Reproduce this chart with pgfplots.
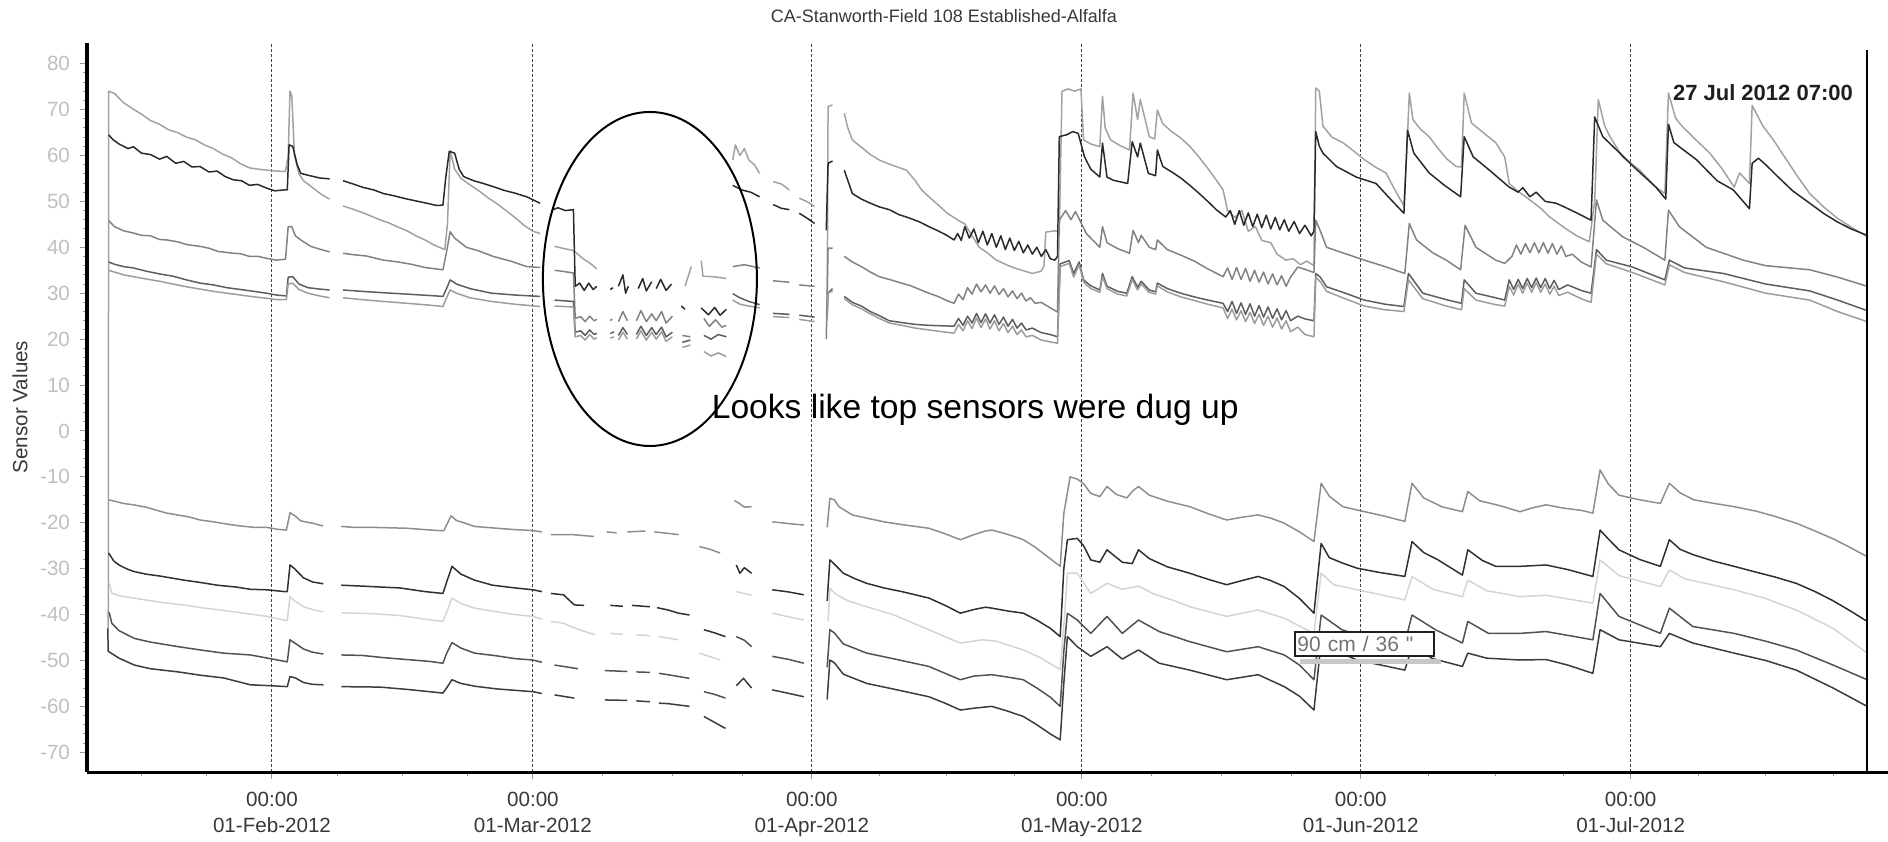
\documentclass[border=0pt]{standalone}
\usepackage{fontspec}
\setmainfont{Liberation Sans}
\newfontfamily\qfont{Liberation Sans}[Ligatures=TeXOff]
\usepackage{pgfplots}
\pgfplotsset{compat=1.18}
\definecolor{cT1}{HTML}{A2A2A2}
\definecolor{cT2}{HTML}{2A2A2A}
\definecolor{cT3}{HTML}{828282}
\definecolor{cT4}{HTML}{5E5E5E}
\definecolor{cT5}{HTML}{9C9C9C}
\definecolor{cB1}{HTML}{8E8E8E}
\definecolor{cB2}{HTML}{303030}
\definecolor{cB3}{HTML}{D4D4D4}
\definecolor{cB4}{HTML}{525252}
\definecolor{cB5}{HTML}{3C3C3C}
\begin{document}
\begin{tikzpicture}
\begin{axis}[
  name=ax,
  scale only axis, width=900.5pt, height=364.5pt,
  xmin=10.44, xmax=210.6, ymin=-74.3, ymax=84.5,
  axis lines*=left,
  x axis line style={line width=1.5pt},
  y axis line style={line width=2pt},
  clip=false,
  unbounded coords=jump,
  /pgf/number format/assume math mode=true,
  xtick={31,60,91,121,152,182},
  xticklabels={{00:00\\01-Feb-2012},{00:00\\01-Mar-2012},{00:00\\01-Apr-2012},{00:00\\01-May-2012},{00:00\\01-Jun-2012},{00:00\\01-Jul-2012}},
  minor xtick={16.5,23.75,38.25,45.5,52.75,67.75,75.5,83.25,98.5,106,113.5,128.75,136.5,144.25,159.5,167,174.5,189.5,197,204.5},
  xticklabel style={align=center, text=black!78, font=\fontsize{10.3}{13}\selectfont, yshift=-3pt},
  ytick={-70,-60,...,80},
  minor y tick num=4,
  yticklabel style={text=black!25, font=\fontsize{10.3}{12}\selectfont, xshift=-1.5pt},
  tick align=outside,
  major tick length=3.5pt, minor tick length=2pt,
  every tick/.style={black!40, line width=0.5pt},
  xmajorgrids,
  major grid style={black!75, line width=0.5pt, dash pattern=on 1.5pt off 1pt},
  every axis plot/.append style={line width=0.75pt, line join=round},
]
% ---------- top group ----------
\addplot[cT1] coordinates {(12.8,-43) (12.85,74) (13.5,73.5) (14.5,71.5) (15.5,70.2) (16.5,69) (17.5,67.6) (18.5,66.8) (19.5,65.6) (20.5,65) (21.5,64) (22.5,63.4) (23.5,62.3) (24.5,61.5) (25.5,60.3) (26.5,59.5) (27.5,58.2) (28.5,57.3) (29.5,57) (30.5,56.8) (31.5,56.6) (32.5,56.5) (32.8,60) (33.0,74) (33.2,73) (33.5,60) (34.0,56) (34.5,54.5) (35.5,53) (36.5,51.5) (37.4,50.5) (37.6,nan) (38.9,49) (40,48.3) (41,47.6) (42,46.8) (43,46) (44,45.3) (45,44.4) (46,43.6) (47,42.5) (48,41.6) (49,40.5) (50.2,39.5) (50.5,45) (50.8,61) (51.3,57) (52,55) (53,53.6) (54,52.3) (55,50.8) (56,49.5) (57,48) (58,46.5) (59,44.8) (60,43.5) (60.8,43) (61.2,nan) (62.4,40.2) (63.5,39.7) (64.5,39.3) (65,38.5) (65.5,37.6) (66.3,36.6) (67.1,35.3) (67.3,nan) (76.9,31.5) (77.6,35.8) (77.8,nan) (78.7,37.1) (78.9,33.7) (80,33.6) (81.5,33.2) (81.7,nan) (82.2,59) (82.5,62.3) (83.0,60.0) (83.5,61.5) (84.0,59) (84.6,58) (85.2,56.1) (85.4,nan) (86.7,54.3) (87.6,53.8) (88.5,52.5) (88.7,nan) (89.6,50.7) (90.4,50) (91.3,48.9) (91.5,nan) (92.7,24.5) (92.8,70.7) (93.3,71) (93.4,nan) (94.6,69.2) (95.0,66) (95.5,63.4) (96.5,61.8) (97.5,60.2) (98.5,59) (99.5,58.2) (100.5,57.5) (101.5,56.8) (102.5,54.5) (103.2,52.5) (104,51) (105,49.3) (106,47.5) (106.7,46.6) (107.5,45.6) (108,45.1) (108.8,42.5) (109.6,40) (110.5,38.8) (111.5,37.2) (112.5,36.3) (113.5,35.5) (114.5,34.9) (115.5,34.3) (116.5,34.8) (116.8,36) (117,43.3) (118,43.6) (118.5,43.3) (118.8,74) (119.5,74.5) (120.2,74) (120.9,74.5) (121.2,63.4) (122,62.5) (123,61.9) (123.3,72.9) (123.6,66) (124.2,63.4) (125.2,62.2) (126.3,61.2) (126.7,73.6) (127.2,67.8) (127.5,72.2) (128.5,64.1) (129.1,63.6) (129.4,69.9) (130,66.9) (131,65.2) (132,63.8) (133,62) (134,59.7) (135,57.2) (136,54.5) (136.7,52.5) (137.2,48) (138,46.5) (138.8,48) (139.5,43.5) (140.3,44.5) (141,41.5) (142,41) (142.7,38.5) (143.7,37.2) (144.5,37.5) (145.3,36.2) (146,37) (146.8,36) (147.0,74.7) (147.4,74) (147.8,66.4) (148.8,64) (150,62.8) (151.2,61) (152.4,59.1) (153.6,57.5) (154.8,56.2) (155.8,52.5) (156.8,49) (157.1,60) (157.4,73.6) (157.8,67.8) (158.6,65.8) (159.6,64.1) (160.6,61.5) (161.6,59.2) (162.6,57.6) (163.2,57.5) (163.5,73.6) (164.3,67.1) (165.6,65) (167,62.8) (168,59.7) (168.5,53.9) (169.3,52.5) (170.8,50.3) (172,48.5) (173,46.6) (174.6,44.3) (176,42.5) (177.4,41.2) (178.0,50) (178.4,72.2) (179.1,66.5) (179.7,64.1) (181.1,59.7) (183,56.8) (184.8,53.1) (185.8,51.7) (186.2,73.6) (187.0,68.1) (187.7,66.4) (189.2,63.5) (190.8,60.5) (192.2,57) (193.5,53.1) (194.1,56.2) (195.2,53.9) (195.5,70.9) (196.7,66.4) (198.0,63) (199.3,59.1) (200.7,55) (201.9,51.7) (203.5,48.7) (205,46.3) (206.5,44.4) (208.29,42.3)};
\addplot[cT2] coordinates {(12.85,64.5) (13.3,63.5) (14,62.5) (15,61.5) (15.6,61.9) (16.5,60.5) (17.5,60.2) (18.5,59.2) (19.3,59.8) (20.3,58.3) (21.2,58.7) (22.1,57.5) (23,57.6) (24,56.4) (24.9,56.6) (25.8,55.4) (26.7,54.7) (27.6,54.5) (28.5,53.5) (29.4,53.7) (30.4,52.9) (31.3,52.3) (32.4,52.5) (32.7,52.5) (32.9,62.3) (33.3,62) (33.8,58) (34.2,56.1) (35.2,55.6) (36.3,55.1) (37.4,54.9) (37.6,nan) (38.9,54.5) (40,53.8) (41.2,53) (42.3,52.5) (43.4,51.7) (44.6,51.2) (45.8,50.6) (47,50.1) (48.2,49.6) (49.3,49.1) (50.0,49.2) (50.3,55) (50.7,60.9) (51.3,60.5) (51.8,57) (52.3,55.4) (53.4,54.5) (54.5,53.9) (55.6,53.2) (56.8,52.4) (58,51.8) (59.3,51) (60.8,49.6) (61.2,nan) (62.2,48.2) (62.8,48.6) (63.6,48.0) (64.5,48.2) (64.7,31.5) (65.2,32.2) (65.7,30.6) (66.2,32.2) (66.7,30.8) (67.1,31.5) (67.3,nan) (68.6,30.8) (68.9,31.2) (69.1,nan) (69.5,31.5) (70,34) (70.3,30) (70.6,31.5) (70.8,nan) (71.7,31) (72.2,33.2) (72.6,30.5) (73.2,32.5) (73.4,nan) (73.7,31) (74.2,33) (74.8,30.6) (75.4,32) (75.6,nan) (76.5,27.2) (76.9,26.5) (77.1,nan) (78.7,26.8) (79.5,25.3) (80.2,26.9) (80.8,25.2) (81.5,26.5) (81.7,nan) (82.2,53.5) (83.2,52.5) (84.2,52) (85.2,51) (85.4,nan) (86.7,49.3) (87.6,48.5) (88.5,48.2) (88.7,nan) (89.6,47.4) (90.5,46.3) (91.3,45.2) (91.5,nan) (92.6,43.7) (92.8,58.3) (93.3,58.8) (93.4,nan) (94.6,56.8) (95.5,51.7) (96.5,50.5) (97.5,49.6) (98.5,48.8) (99.6,48.2) (100.7,47.1) (101.8,46.4) (103,45.5) (104,44.5) (105,43.6) (106,42.6) (106.8,41.6) (107.2,43) (107.6,41.5) (108,44.5) (108.5,42) (109,44) (109.5,41) (110,43.5) (110.5,40.5) (111,43) (111.5,40) (112,42.5) (112.5,39.5) (113,42) (113.5,39.3) (114,41.3) (114.5,38.8) (115,40.5) (115.5,38.5) (116,40) (116.5,38) (117,39.5) (117.5,37.5) (118,37.2) (118.3,38) (118.5,64.1) (119.3,64.5) (120,65.2) (120.6,64.8) (121.3,59.7) (122,57) (123,55.3) (123.3,62.7) (123.8,55.3) (124.5,54.6) (126.1,53.9) (126.6,63) (127.2,59.7) (127.5,62.7) (128.4,56.1) (129.2,55.6) (129.4,61.2) (130,57.6) (131,56.4) (132,55.1) (133,53.5) (134,51.8) (135,50) (136,48.1) (137,46.6) (137.5,48) (138,45) (138.5,48) (139,44.8) (139.5,47.5) (140,44.5) (140.5,47.2) (141,44.3) (141.5,47) (142,44) (142.5,46.5) (143,43.8) (143.5,46) (144,43.5) (144.6,45.6) (145.2,43) (145.8,44.8) (146.5,42.5) (146.8,43.5) (147,65.2) (147.4,62) (147.8,60.5) (149.3,57.6) (151.5,55.3) (153.7,53.9) (155.3,50.5) (156.8,47.4) (157.2,65.5) (157.9,60.5) (159.6,56.2) (161.3,53.5) (163.1,51) (163.5,64.1) (164.5,59.7) (166.3,56.8) (168.5,53.1) (169.5,52) (170,53) (170.8,51) (171.5,52) (172.5,50) (173.7,49.6) (174.5,48.9) (176,47.5) (177.6,45.9) (178,68.4) (178.9,64.1) (180.8,60.5) (182.3,57.6) (184.8,53.1) (185.9,50.5) (186.2,66.8) (186.8,62.8) (189.3,59.1) (191.6,54.5) (193.4,52.5) (195.2,48.4) (195.5,58.3) (196.2,59.4) (197.0,58) (198.4,55.3) (200,52.3) (201.9,49.6) (203.5,47.3) (205,45.5) (206.5,44) (208.29,42.6)};
\addplot[cT3] coordinates {(12.85,45.8) (13.5,44.5) (14.5,43.6) (15.6,43.1) (16.5,42.6) (17.5,42.5) (18.5,41.7) (19.3,41.6) (20.5,41.2) (21.5,40.6) (23,40.2) (24,39.8) (25,39.1) (26.7,38.7) (27.5,38.6) (28.5,38) (29.5,38) (30.4,37.6) (31.5,37.2) (32.5,37.4) (32.8,44.5) (33.2,44.5) (33.6,42.5) (34.2,41.6) (35.3,40.2) (36.3,39.6) (37.4,39) (37.6,nan) (38.9,38.7) (40,38.4) (41.5,38.1) (43.4,37.2) (45,36.8) (46.5,36.3) (48,35.6) (50,35.1) (50.4,39) (50.8,43.4) (51.3,42) (52.6,40) (54,39.2) (55.6,38) (57.5,37) (59.3,35.8) (60.8,35.6) (61.2,nan) (62.4,35) (63.5,34.7) (64.5,34.4) (64.7,24.5) (65.3,24.9) (65.8,23.8) (66.3,25) (66.8,24) (67.1,24.3) (67.3,nan) (68.6,24) (68.8,24.4) (69.0,nan) (69.5,23.8) (70,26) (70.5,24) (70.7,nan) (71.5,24) (72,26.2) (72.6,23.8) (73.2,25.5) (73.7,24) (74.3,26) (74.8,23.5) (75.5,25) (75.7,nan) (76.6,20.8) (77.5,20.5) (77.7,nan) (79,24.5) (79.6,22.8) (80.3,24.2) (81,22.6) (81.5,23) (81.7,nan) (82.2,35.8) (83.5,36.2) (85.2,35.5) (85.4,nan) (86.7,32.7) (88.5,32.4) (88.7,nan) (89.6,31.8) (91.3,31.5) (91.5,nan) (92.6,20) (92.8,39.8) (93.3,39.8) (93.4,nan) (94.6,38) (95.5,36.8) (96.5,35.8) (97.5,34.6) (98.5,33.6) (99.6,33.0) (100.8,32.3) (102,31.6) (103,30.8) (104,30) (105,29.3) (106,28.4) (106.8,27.8) (107.3,29.8) (107.8,28.6) (108.3,31.2) (108.8,29.8) (109.3,32) (109.8,30.3) (110.3,31.8) (110.8,30) (111.3,31.6) (111.8,29.7) (112.3,31) (112.8,29.2) (113.3,30.5) (113.8,28.8) (114.3,30) (114.8,28.3) (115.3,29) (115.8,27.8) (116.5,28) (117,27.4) (118.3,25.9) (118.5,45.9) (119.2,48) (119.8,46) (120.3,47.8) (121,45) (121.5,43) (123,40) (123.3,44.5) (123.8,41) (125,39.7) (126.3,38.7) (126.7,43.7) (127.3,41) (127.6,42.6) (128.5,40) (129.2,39.5) (129.4,41.6) (130.5,39.5) (132,38.3) (133.5,37) (135,35.3) (136.7,33.6) (137.2,35.5) (137.7,33) (138.2,35.6) (138.7,33) (139.2,35.4) (139.7,32.6) (140.2,35) (140.7,32.4) (141.2,34.6) (141.7,32) (142.2,34.2) (142.7,31.8) (143.2,33.8) (143.7,31.5) (144.2,33.5) (145,35.7) (145.8,35.2) (146.8,34.5) (147,45.9) (147.5,43.6) (148.2,40) (150,38.8) (152.4,37.2) (154.7,35.8) (156.9,34.3) (157.4,45.2) (158.2,41.6) (160,38.8) (161.5,37.2) (163.1,35.1) (163.6,44.8) (164.8,40) (167,37.2) (168,36.5) (168.8,38) (169.3,40.5) (169.8,38.5) (170.3,40.8) (170.8,38.8) (171.3,41) (171.8,38.8) (172.3,41) (172.8,38.7) (173.3,40.8) (173.8,38.5) (174.3,40.3) (174.8,38) (175.5,38.5) (176.5,36.8) (177.6,35.7) (178.2,50.3) (178.9,45.9) (181.1,42.3) (183.4,40) (185.8,37.2) (186.2,48.1) (187.4,44.5) (190.4,40) (194.5,37.2) (197,36) (201.9,35.1) (205,33.5) (208.29,31.5)};
\addplot[cT4] coordinates {(12.85,36.8) (13.5,36.3) (14.5,35.8) (15.6,35.5) (17,34.8) (18.5,34.2) (20,33.7) (21.5,32.9) (23,32.2) (24.5,31.8) (26,31.2) (27.5,30.8) (29,30.4) (30.4,30) (31.5,29.6) (32.6,29.4) (32.8,33.5) (33.3,33.6) (34,32) (35,31.2) (36.3,30.9) (37.4,30.7) (37.6,nan) (38.9,30.7) (41,30.4) (43.4,30.1) (46,29.8) (48.5,29.5) (50,29.3) (50.4,31) (50.8,32.9) (51.5,32) (53,31) (55.4,30) (58,29.6) (60.8,29.3) (61.2,nan) (62.4,28.5) (64.5,28.2) (64.7,21.5) (65.3,21.8) (65.8,20.8) (66.3,22) (66.8,21) (67.1,21.3) (67.3,nan) (68.6,21.2) (69.0,21.6) (69.2,nan) (69.5,20.8) (70,22.5) (70.5,21) (70.7,nan) (71.5,21) (72,22.8) (72.6,20.8) (73.2,22.5) (73.7,21) (74.3,22.6) (74.8,20.5) (75.5,21.5) (75.7,nan) (76.6,19.3) (77.5,19.8) (77.7,nan) (79,20.8) (79.8,20) (80.6,21) (81.5,20.5) (81.7,nan) (82.2,29.9) (83,29) (84,28.2) (85.2,27.5) (85.4,nan) (86.7,25.6) (88.5,25.4) (88.7,nan) (89.6,25.2) (91.3,24.8) (91.5,nan) (92.7,25) (92.8,30) (93.3,31) (93.4,nan) (94.6,29.3) (95.5,28) (96.5,27.2) (97.5,26) (98.5,25.1) (99.6,24) (101,23.6) (102.5,23.2) (104,23) (105.5,22.9) (106.8,22.8) (107.3,24.5) (107.8,23) (108.3,25) (108.8,23.5) (109.3,25.6) (109.8,23.6) (110.3,25.5) (110.8,23.5) (111.3,25.3) (111.8,23.2) (112.3,24.8) (112.8,22.8) (113.3,24.3) (113.8,22.4) (114.3,23.5) (114.8,22) (115.5,22.4) (116.5,21.4) (117.5,21) (118.3,20.5) (118.6,36.4) (119.6,37.1) (120.1,34.3) (120.7,36.8) (121.2,32.9) (122,31.6) (123,30.7) (123.3,34.3) (123.8,31.5) (125,30.4) (126,30) (126.6,33.6) (127.2,31.3) (127.6,32.6) (128.5,30.7) (129.2,30.3) (129.4,32.2) (130.5,31) (132,30) (133.5,29.2) (135,28.5) (136.7,27.8) (137.2,26) (137.7,28.2) (138.2,25.6) (138.7,27.9) (139.2,25.4) (139.7,27.7) (140.2,25) (140.7,27.3) (141.2,24.8) (141.7,27) (142.2,24.5) (142.7,26.6) (143.2,24.2) (143.7,26.2) (144.2,24) (145,25) (145.8,24.4) (146.8,24) (147,34.3) (147.5,33.5) (148.2,31.4) (150,30.2) (152.4,28.5) (154.7,27.6) (156.8,27.1) (157.3,34.3) (158.9,30) (161.5,28.6) (163.2,27.8) (163.5,32.9) (164.8,30) (167,29) (168,28.5) (168.5,32.9) (169,30.8) (169.5,33) (170,31) (170.5,33.2) (171,31.2) (171.5,33.3) (172,31.2) (172.5,33.2) (173,31) (173.5,32.8) (174,30.8) (175,31.8) (176.5,30.6) (177.6,30) (178.2,39.5) (179.3,37.2) (182.2,35.7) (185.8,32.9) (186.3,37.2) (188,35.5) (192.3,34.3) (197,32) (201.9,30.5) (205,28.5) (208.29,26.2)};
\addplot[cT5] coordinates {(12.85,35) (13.5,34.6) (14.5,34.0) (15.6,33.6) (17,33.1) (18.5,32.6) (20,32.0) (21.5,31.4) (23,30.9) (24.5,30.4) (26,30) (27.5,29.6) (29,29.2) (30.4,28.9) (31.5,28.6) (32.6,28.6) (32.8,32) (33.3,32.2) (34,30.8) (35,30) (36.3,29.4) (37.4,29) (37.6,nan) (38.9,29) (41,28.6) (43.4,28.2) (46,27.8) (48.5,27.4) (50,27.1) (50.4,29) (50.8,30.7) (51.5,30) (53,29) (55.4,28.2) (58,27.6) (60.8,27.1) (61.2,nan) (62.4,27.2) (64.5,27) (64.7,20.5) (65.3,20.8) (65.8,19.8) (66.3,21) (66.8,20) (67.1,20.3) (67.3,nan) (68.6,20.2) (69.0,20.5) (69.2,nan) (69.5,19.8) (70,21.5) (70.5,20) (70.7,nan) (71.5,20) (72,21.8) (72.6,19.8) (73.2,21.5) (73.7,20) (74.3,21.6) (74.8,19.5) (75.5,20.5) (75.7,nan) (76.6,18.2) (77.5,18.7) (77.7,nan) (79,17.3) (79.8,16.3) (80.6,17) (81.5,16.2) (81.7,nan) (82.2,28.5) (83,27.6) (84,27.2) (85.2,26.8) (85.4,nan) (86.7,24.9) (88.5,24.7) (88.7,nan) (89.6,24.3) (91.3,23.8) (91.5,nan) (92.7,24) (92.8,30) (93.3,30.5) (93.4,nan) (94.6,28.8) (95.5,27.5) (96.5,26.6) (97.5,25.5) (98.5,24.5) (99.6,23.5) (101,23) (102.5,22.4) (104,22) (105.5,21.6) (106.8,21.3) (107.3,23.2) (107.8,21.8) (108.3,24) (108.8,22.3) (109.3,24.6) (109.8,22.5) (110.3,24.4) (110.8,22.2) (111.3,24) (111.8,21.8) (112.3,23.4) (112.8,21.4) (113.3,22.8) (113.8,21) (114.3,22) (114.8,20.5) (115.5,20.8) (116.5,19.8) (117.5,19.4) (118.3,19.1) (118.6,35.8) (119.6,36.5) (120.1,33.5) (120.7,36.2) (121.2,32.4) (122,31) (123,30.2) (123.3,33.6) (123.8,31) (125,29.8) (126,29.4) (126.6,33) (127.2,30.7) (127.6,32) (128.5,30.2) (129.2,29.8) (129.4,31.6) (130.5,30.3) (132,29.2) (133.5,28.4) (135,27.6) (136.7,26.8) (137.2,24.5) (137.7,26.5) (138.2,24.2) (138.7,26.2) (139.2,23.8) (139.7,25.8) (140.2,23.4) (140.7,25.4) (141.2,23) (141.7,25) (142.2,22.6) (142.7,24.6) (143.2,22.2) (143.7,24) (144.2,21.6) (145,22.6) (145.8,21) (146.8,20.5) (147,33.5) (147.5,32.5) (148.2,30.4) (150,29) (152.4,27.2) (154.7,26.4) (156.8,26) (157.3,32.9) (158.9,28.8) (161.5,27.2) (163.2,26.4) (163.5,31) (164.8,28.5) (167,27.5) (168,27.2) (168.5,31.5) (169,29.6) (169.5,32) (170,30) (170.5,32.2) (171,30.2) (171.5,32.3) (172,30.2) (172.5,32) (173,29.8) (173.5,31.5) (174,29.5) (175,30.2) (176.5,28.8) (177.6,28) (178.2,38.5) (179.3,36.4) (182.2,34.5) (185.8,31.8) (186.3,36.2) (188,34.5) (192.3,32.5) (197,30) (201.9,28.5) (205,26) (208.29,23.8)};
% ---------- bottom group ----------
\addplot[cB1] coordinates {(12.85,-15) (13.5,-15.3) (14.5,-15.8) (15.6,-16.1) (17,-16.6) (18.2,-17.3) (19.3,-17.9) (20.5,-18.3) (21.7,-18.7) (23,-19.4) (24.5,-19.8) (26,-20.3) (27.5,-20.7) (29,-21) (30.4,-21) (31.5,-21.4) (32.6,-21.6) (33,-17.8) (33.5,-18.4) (34.2,-19.6) (35.5,-20.1) (36.7,-20.7) (36.9,nan) (38.7,-20.8) (40,-21) (42,-21) (44,-21.1) (46,-21.2) (48,-21.5) (49.5,-21.7) (50.1,-21.7) (50.9,-18.5) (51.5,-19.5) (53.5,-20.8) (56,-21.2) (58,-21.5) (60,-21.7) (61,-22) (61.2,nan) (62,-22.6) (64.5,-22.6) (66.8,-23) (67,nan) (68.2,-22) (69.3,-22.2) (69.5,nan) (70.5,-22) (72.5,-21.8) (72.7,nan) (73.5,-22) (75,-22.3) (76.2,-22.6) (76.4,nan) (78.5,-25.2) (79.7,-25.8) (80.8,-26.6) (81,nan) (82.4,-15.2) (82.8,-15.6) (83.5,-16.6) (84.3,-16.5) (84.5,nan) (86.6,-19.8) (88.5,-20.2) (90.1,-20.5) (90.3,nan) (92.7,-21) (93,-14.7) (93.5,-15) (94,-16.5) (95.5,-18.3) (97.1,-19) (99,-19.8) (101,-20.4) (104,-21.2) (105.8,-22.4) (107.5,-23.7) (109,-22.6) (110.3,-21.8) (111,-21.6) (112,-22.1) (113.5,-23) (114.5,-23.7) (115.8,-25.3) (117.2,-27.4) (118.6,-29.5) (119.0,-18) (119.7,-10) (120.5,-10.5) (121.2,-11.5) (122,-13.6) (123,-14.3) (123.8,-12.1) (124.8,-13.8) (126,-14.6) (126.7,-13) (127.3,-12.1) (128.5,-14) (130.5,-15.3) (133,-16.5) (135,-18) (137.1,-19.4) (138.8,-18.8) (140.6,-18.3) (142,-19) (143.5,-20.1) (145.2,-22) (146.8,-24.1) (147.6,-11.4) (148.5,-14.2) (150,-16.5) (152,-17.4) (154.5,-18.5) (156.9,-19.7) (157.7,-11.4) (159,-14.6) (161,-16.5) (163.3,-17.6) (163.9,-13.2) (165.2,-15.2) (167.5,-16.3) (169.7,-17.6) (171,-16.8) (172.6,-16.1) (174.5,-16.8) (176.5,-17.3) (177.8,-17.9) (178.6,-8.5) (179.5,-11.5) (180.7,-14) (183,-15) (185.3,-15.8) (186.3,-11.4) (187.5,-13.5) (189,-15) (191.3,-15.8) (193.5,-16.5) (196,-17.5) (198,-18.6) (200.4,-20.1) (202.5,-21.8) (204.5,-23.5) (206.5,-25.5) (208.29,-27.4)};
\addplot[cB3] coordinates {(12.9,-33) (13.2,-35.3) (14,-35.9) (15.6,-36.4) (17.5,-37) (19.3,-37.5) (21.5,-38) (23.5,-38.6) (26,-39.2) (28.6,-39.9) (30.4,-40.4) (32.4,-41.2) (32.7,-41.3) (33,-36.1) (33.5,-37) (34.5,-38.3) (35.5,-38.9) (36.7,-39.4) (36.9,nan) (38.7,-39.6) (42,-39.8) (45.2,-40.2) (48,-41) (50,-41.5) (50.5,-39) (51,-36.4) (52,-37.6) (53.5,-38.6) (56,-39.4) (58,-40) (60,-40.4) (61,-41) (61.2,nan) (62,-41.5) (63.4,-41.9) (65,-43.2) (66.9,-44.4) (67.1,nan) (68.6,-44.1) (70,-44.3) (70.2,nan) (71.5,-44.4) (73,-44.6) (73.2,nan) (74,-44.8) (76.2,-45.5) (76.4,nan) (78.5,-48.4) (80.8,-49.9) (81,nan) (82.6,-35) (84.3,-35.8) (84.5,nan) (86.6,-39.7) (90.1,-41.2) (90.3,nan) (92.8,-41.5) (93,-34.3) (93.6,-35.5) (95,-37) (97.1,-38.3) (100,-40) (104,-43.3) (106,-45) (107.5,-46.2) (110,-45.5) (111.5,-45.8) (114.5,-47.7) (116.5,-49.5) (118.6,-52) (119.1,-40) (119.4,-31) (120.5,-31) (122,-35.4) (123.8,-33.2) (125.5,-34.5) (127.3,-33.8) (129,-35.5) (131,-36.8) (133,-38.3) (137.1,-40.4) (140.6,-39) (143.5,-40.8) (146.8,-44.1) (147.6,-31) (149,-33.5) (151.6,-34.6) (156.9,-36.8) (157.7,-31.7) (160,-34.5) (163.3,-36.1) (163.9,-32.5) (166,-34.8) (169.7,-36.1) (172.6,-35.8) (177.8,-37.5) (178.6,-28.1) (180.7,-31.5) (185.3,-33.9) (186.3,-30.3) (188,-32.2) (193.5,-34.6) (197,-36.5) (200.4,-39) (204.5,-43) (208.29,-48.4)};
\addplot[cB2] coordinates {(12.85,-26.6) (13.4,-28.3) (14,-29.2) (14.8,-30) (15.6,-30.6) (17,-31.2) (18.5,-31.6) (21.2,-32.5) (23,-33) (24.9,-33.6) (27,-34) (28.6,-34.5) (30.4,-34.6) (32.4,-35) (32.7,-35) (33,-29.2) (33.5,-30) (34.5,-32) (35.5,-32.9) (36.7,-33.3) (36.9,nan) (38.7,-33.6) (41,-33.8) (43,-34) (45.2,-34.2) (48,-35) (50,-35.4) (50.4,-33) (51,-29.5) (52,-31.2) (53.5,-32.5) (55.5,-33.6) (58,-34.2) (60,-34.6) (61,-35) (61.2,nan) (62,-35.4) (63.4,-35.7) (64.6,-37.9) (65.7,-38) (65.9,nan) (68.6,-38) (70,-38.2) (70.2,nan) (71,-38) (73,-38.3) (73.2,nan) (73.8,-38.5) (75,-39) (76.2,-39.7) (77.4,-40.1) (77.6,nan) (79,-43.3) (80.2,-44) (81.4,-44.8) (81.6,nan) (82.6,-29.2) (83,-31) (83.5,-29.8) (84.3,-31) (84.5,nan) (86.6,-34.6) (88.5,-35.1) (90.1,-35.7) (90.3,nan) (92.7,-37) (93,-28.1) (93.5,-29) (94.5,-31) (95.8,-32.2) (97.1,-33.2) (99,-34.2) (101,-35) (104,-36.4) (105.8,-38) (107.5,-39.7) (109,-38.9) (110.3,-38.4) (111,-38.6) (112.7,-39.2) (114.5,-39.7) (116,-41.2) (117.5,-43) (118.6,-44.8) (119.0,-30) (119.4,-23.7) (120.5,-23.4) (121.2,-25) (122,-28.1) (123,-28.6) (123.8,-25.9) (125.5,-28.6) (126.6,-28.9) (127.3,-25.9) (128.5,-27.8) (130.5,-29.6) (133,-31) (135,-32.3) (137.1,-33.5) (138.8,-32.6) (140.6,-31.7) (142,-32.6) (143.5,-33.9) (145.2,-36.5) (146.8,-39.7) (147.6,-24.5) (148.5,-27.6) (150,-28.8) (151.6,-29.9) (154,-30.8) (156.9,-31.7) (157.7,-24.1) (159,-26.5) (160.6,-28.1) (163.3,-31.4) (163.9,-25.9) (165.5,-28.2) (167,-29.5) (169.7,-29.5) (172.6,-29.2) (175,-30.2) (177.8,-31.7) (178.6,-21.6) (179.5,-23.5) (180.7,-25.9) (183,-28) (185.3,-29.5) (186.3,-23.7) (187.5,-25.8) (189,-27) (191.3,-28.4) (193.5,-29.5) (196,-30.8) (198,-31.8) (200.4,-33.2) (202.5,-35) (204.5,-37) (206.5,-39.3) (208.29,-41.5)};
\addplot[cB4] coordinates {(12.9,-39.5) (13.2,-41.9) (14,-43.5) (15.7,-45.2) (17.5,-46) (20.6,-47) (23,-47.7) (25.6,-48.4) (28.6,-48.8) (30.8,-49.6) (32.7,-50.3) (33,-45.5) (33.6,-46.3) (34.5,-47.5) (35.5,-48.2) (36.7,-48.6) (36.9,nan) (38.7,-48.8) (41,-48.9) (43.5,-49.4) (46,-49.8) (48.5,-50.2) (50,-50.6) (50.4,-48.5) (51,-46.1) (52,-47.3) (53.5,-48.4) (56,-49) (58,-49.6) (60,-49.9) (61,-50.4) (61.2,nan) (62.4,-51) (63.4,-51.3) (65,-51.8) (65.2,nan) (68,-52.2) (70.5,-52.4) (70.7,nan) (71.5,-52.5) (73,-52.6) (73.2,nan) (74,-52.8) (75,-53.1) (77.4,-53.9) (77.6,nan) (79,-56.8) (80.2,-57.4) (81.4,-58.2) (81.6,nan) (82.6,-44.8) (83.5,-45.6) (84.3,-47) (84.5,nan) (86.6,-49.1) (88.5,-49.8) (90.1,-50.6) (90.3,nan) (92.7,-51.5) (93,-43.3) (93.5,-44) (94.5,-46.4) (97.1,-48.4) (100,-49.6) (104,-51.3) (105.8,-52.8) (107.5,-54.2) (109,-53.4) (111,-53.1) (112.7,-53.6) (114.5,-54.2) (116,-56) (117.5,-58) (118.6,-60) (119.0,-48) (119.4,-39.7) (120.5,-41.2) (122,-44.1) (123.8,-40.4) (125.5,-44.1) (127.3,-41.2) (129.6,-43.7) (133,-45.9) (137.1,-48.1) (140.6,-47) (143.5,-48.8) (145.2,-51) (146.8,-54.2) (147.6,-40.1) (149.9,-43.3) (151.6,-44.4) (156.9,-46.2) (157.7,-40.1) (160.3,-43.3) (163.3,-46.2) (163.9,-41.5) (166.2,-44.1) (169.7,-44.1) (172.6,-43.7) (177.8,-45.5) (178.6,-35.4) (180.7,-40.4) (185.3,-44.1) (186.3,-38.6) (188.9,-42.6) (193.5,-44.1) (197,-45.8) (200.4,-47.7) (204.5,-51) (208.29,-54.2)};
\addplot[cB5] coordinates {(12.75,-43) (12.8,-48) (14,-49.5) (15.7,-51) (17.5,-51.8) (20.6,-52.5) (23,-53.2) (25.6,-53.8) (28.6,-55.3) (30.8,-55.5) (32.7,-55.7) (33,-53.5) (33.6,-53.8) (34.5,-54.8) (35.5,-55.2) (36.7,-55.3) (36.9,nan) (38.7,-55.7) (43,-55.8) (46,-56.3) (48.5,-56.8) (50,-57.1) (50.4,-56) (51,-54.2) (52,-55) (53.5,-55.6) (56,-56.2) (58,-56.5) (60,-56.8) (61,-57.2) (61.2,nan) (62.4,-57.5) (64.6,-58.2) (64.8,nan) (68,-58.6) (70.5,-58.7) (70.7,nan) (71.5,-58.8) (73,-59) (73.2,nan) (74,-59.3) (75,-59.4) (77.4,-60) (77.6,nan) (79,-62.2) (80.2,-63.5) (81.4,-64.8) (81.6,nan) (82.6,-55.5) (83.4,-53.9) (84.3,-56) (84.5,nan) (86.6,-56.4) (88.5,-57.2) (90.1,-57.9) (90.3,nan) (92.7,-58.5) (93,-49.9) (93.5,-50.5) (94.5,-53) (97.1,-55) (100,-56.2) (104,-57.9) (105.8,-59.3) (107.5,-60.8) (109,-60.4) (111,-60) (112.7,-61) (114.5,-62.2) (116,-64) (117.5,-66) (118.6,-67.3) (119.0,-55) (119.4,-44.8) (120.5,-47) (122,-49.1) (123.8,-47) (125.5,-49.7) (127.3,-47.7) (129.6,-50.6) (133,-52.1) (137.1,-54.2) (140.6,-53.1) (143.5,-55.7) (145.2,-57.8) (146.8,-60.8) (147.6,-46) (148.7,-47.5) (151.6,-49.9) (156.9,-52.1) (157.7,-47) (160,-49.6) (163.3,-51.3) (163.9,-48.4) (166,-49.5) (169.7,-49.9) (172.6,-49.8) (175,-51) (177.8,-52.8) (178.6,-43.3) (180.7,-45.5) (185.3,-47) (186.3,-44.1) (188.9,-46.2) (193.5,-48.4) (197,-50) (200.4,-52.1) (204.5,-56) (208.29,-60)};
% ---------- annotations ----------
\draw[black, line width=0.9pt] (axis cs:208.29,83) -- (axis cs:208.29,-74.3);
\node[anchor=base east, text=black!88, font=\bfseries\fontsize{11}{13}\selectfont, inner sep=0pt, xshift=-7pt] at (axis cs:208.29,71.9) {27 Jul 2012 07:00};
\draw[black, line width=1pt] (axis cs:73,33.1) ellipse [x radius=53.5pt, y radius=83.5pt];
\node[anchor=base west, text=black, font=\fontsize{16.8}{19}\selectfont, inner sep=0pt] at (axis cs:79.84,2.6) {Looks like top sensors were dug up};
\node[name=box, draw=black!88, line width=0.9pt, fill=white, anchor=west, inner xsep=1.2pt, inner ysep=0.8pt, text width=67pt, align=left, minimum height=12pt, text=black!55, font=\qfont\fontsize{10.5}{11}\selectfont] at (axis cs:144.6,-46.4) {90 cm / 36 "};
\fill[black!22] ([xshift=3pt,yshift=-1pt]box.south west) rectangle ([xshift=3pt,yshift=-3.5pt]box.south east);
\node[text=black!78, font=\fontsize{9}{11}\selectfont] at (rel axis cs:0.4758,1.0374) {CA-Stanworth-Field 108 Established-Alfalfa};
\node[rotate=90, text=black!78, font=\fontsize{10.3}{12}\selectfont] at (rel axis cs:-0.0372,0.5007) {Sensor Values};
\end{axis}
\pgfresetboundingbox
\path (ax.south west) ++(-43.5pt,-34.5pt) rectangle ([yshift=21.5pt]ax.north east);
\end{tikzpicture}
\end{document}
